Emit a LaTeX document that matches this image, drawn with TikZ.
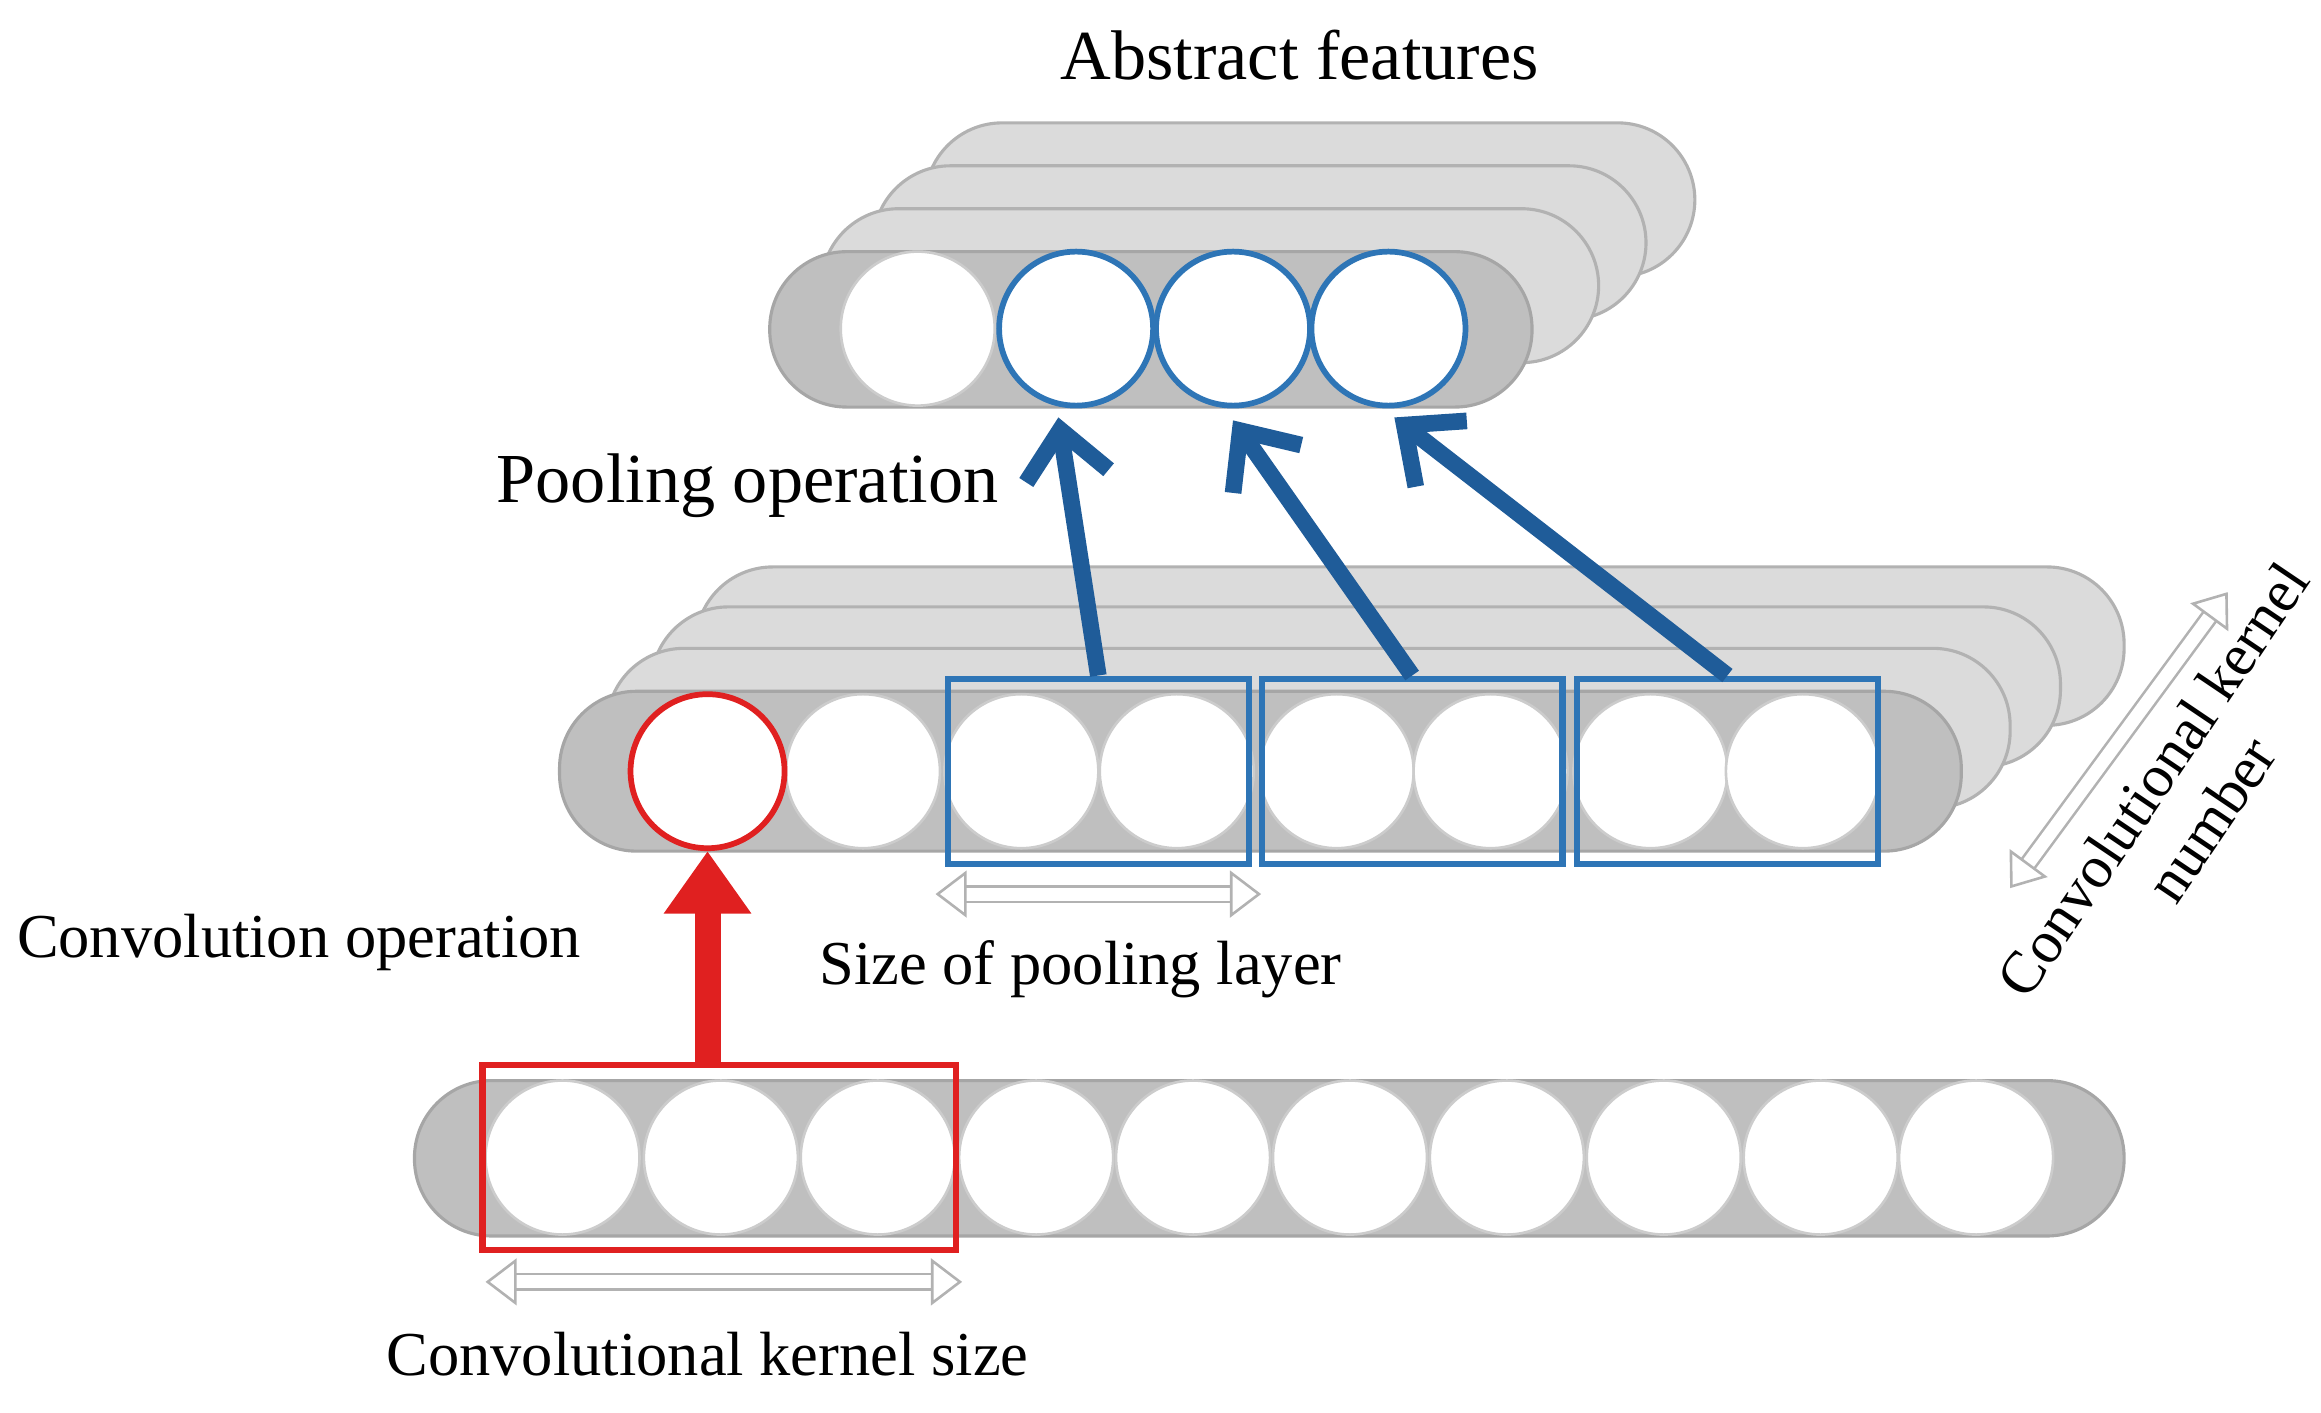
\documentclass[tikz,border=0pt]{standalone}
\usepackage{fontspec}
\setmainfont{Liberation Serif}
\usetikzlibrary{arrows.meta}
\definecolor{lb}{HTML}{2E75B6}
\definecolor{ab}{HTML}{1F5C99}
\definecolor{rd}{HTML}{E02020}
\begin{document}
\begin{tikzpicture}[x=0.01cm,y=-0.01cm,
  back/.style={fill=gray!28,draw=gray!60,line width=0.6pt,rounded corners=0.52cm},
  front/.style={fill=gray!50,draw=gray!70,line width=0.6pt,rounded corners=0.52cm},
  cell/.style={circle,fill=white,draw=gray!40,line width=0.5pt,minimum size=1.04cm,inner sep=0pt},
  bcell/.style={cell,draw=lb,line width=1.1pt},
  rcell/.style={cell,draw=rd,line width=1.1pt},
  win/.style={draw,rectangle,line width=1.2pt,inner sep=0pt,fill=none},
  barr/.style={ab,line width=3.2pt,-{Straight Barb[length=9pt,width=16pt]}},
  dbl/.style={draw=gray!60,double=white,double distance=2.5pt,line width=0.5pt,
    {Triangle[open,length=6pt,width=9pt]}-{Triangle[open,length=6pt,width=9pt]}},
  lab/.style={font=\fontsize{12}{14}\selectfont}]
\useasboundingbox (0,0) rectangle (1568,954);
% top layer
\draw[back] (625,83) rectangle (1145,187);
\draw[back] (590,112) rectangle (1112,216);
\draw[back] (555,141) rectangle (1080,245);
\draw[front] (520,170) rectangle (1035,275);
\node[cell] (t1) at (620,222) {};
\node[bcell] (t2) at (727,222) {};
\node[bcell] (t3) at (833,222) {};
\node[bcell] (t4) at (938,222) {};
% middle layer
\draw[back] (470,383) rectangle (1435,490);
\draw[back] (440,410) rectangle (1392,518);
\draw[back] (410,438) rectangle (1358,546);
\draw[front] (378,467) rectangle (1325,575);
\foreach \x [count=\i] in {478,583,690,795,903,1007,1115,1218}
  \node[cell] (m\i) at (\x,521) {};
\node[rcell] (m1) at (478,521) {};
\node[win,draw=lb,minimum width=2.03cm,minimum height=1.25cm] (p1) at (742,521) {};
\node[win,draw=lb,minimum width=2.03cm,minimum height=1.25cm] (p2) at (954,521) {};
\node[win,draw=lb,minimum width=2.03cm,minimum height=1.25cm] (p3) at (1167,521) {};
% bottom layer
\draw[front] (280,730) rectangle (1435,835);
\foreach \x [count=\i] in {380,487,593,700,806,912,1018,1124,1230,1335}
  \node[cell] (b\i) at (\x,782) {};
\node[win,draw=rd,minimum width=3.2cm,minimum height=1.25cm] (k) at (486,782) {};
% arrows
\coordinate (ks) at (478,720);
\draw[rd,line width=5pt,-{Triangle[length=12pt,width=16pt]}] (ks) -- (m1.south);
\coordinate (e1) at (715,282); \coordinate (e2) at (833,284); \coordinate (e3) at (942,282);
\draw[barr] (p1.north) -- (e1);
\draw[barr] (p2.north) -- (e2);
\draw[barr] (p3.north) -- (e3);
% dimension arrows
\coordinate (d1a) at (328,866); \coordinate (d1b) at (650,866);
\draw[dbl] (d1a) -- (d1b);
\coordinate (d2a) at (632,604); \coordinate (d2b) at (852,604);
\draw[dbl] (d2a) -- (d2b);
\coordinate (d3a) at (1505,400); \coordinate (d3b) at (1358,600);
\draw[dbl] (d3a) -- (d3b);
% labels
\node[lab,font=\fontsize{13.5}{16}\selectfont] (l1) at (878,37) {Abstract features};
\node[lab,font=\fontsize{13.5}{16}\selectfont] (l2) at (505,328) {Pooling operation};
\node[lab] (l3) at (202,637) {Convolution operation};
\node[lab] (l4) at (730,655) {Size of pooling layer};
\node[lab] (l5) at (478,915) {Convolutional kernel size};
\node[lab,font=\fontsize{11.5}{13.5}\selectfont,rotate=56,align=center] (l6) at (1474,540) {Convolutional kernel\\number};
\end{tikzpicture}
\end{document}
